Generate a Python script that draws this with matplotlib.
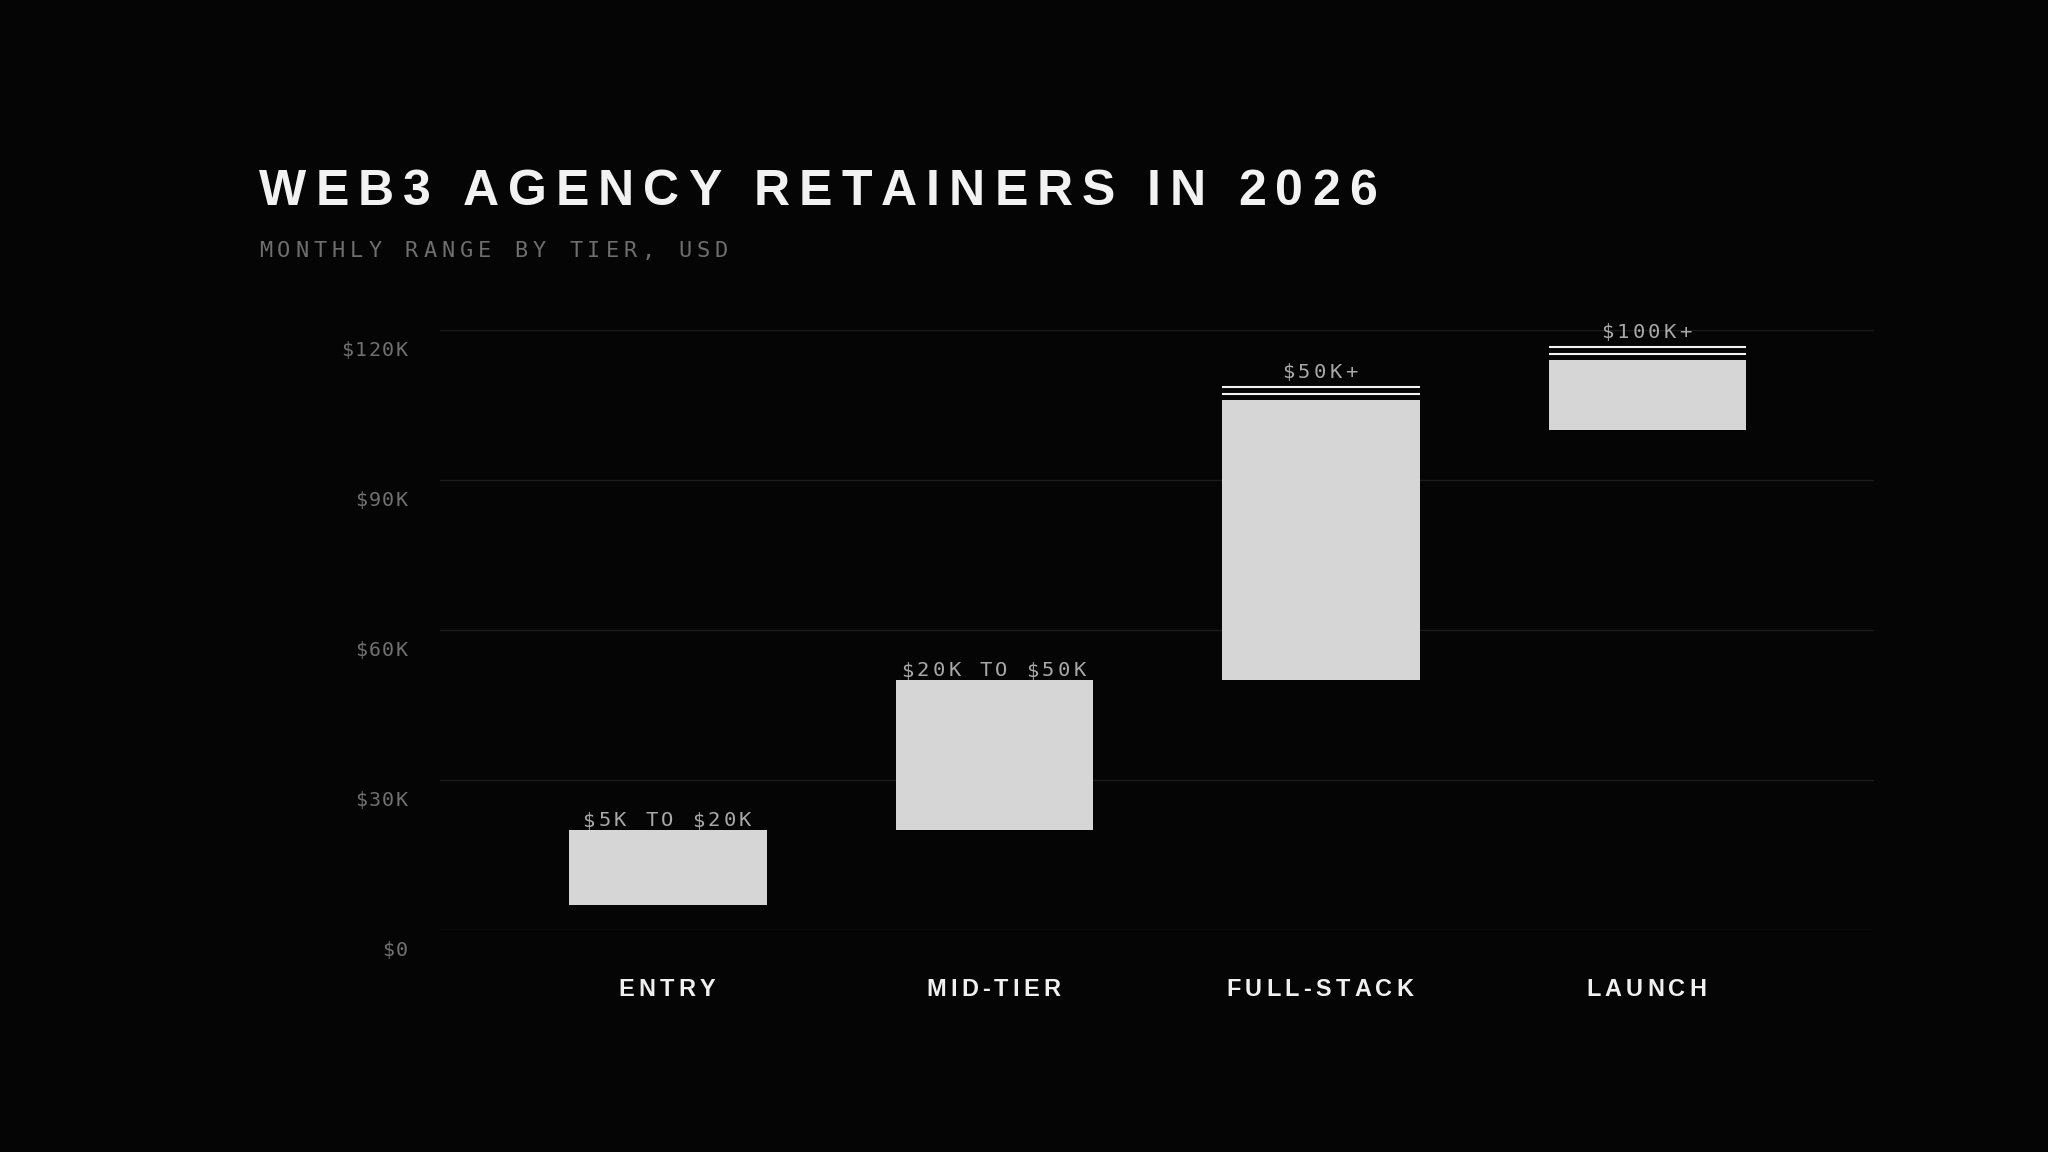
import numpy as np
import matplotlib
matplotlib.use("Agg")
import matplotlib.pyplot as plt
from matplotlib import font_manager
from matplotlib.font_manager import FontProperties
from matplotlib.ft2font import FT2Font
from matplotlib.transforms import IdentityTransform, blended_transform_factory, offset_copy

# datos del grafico (miles de USD por mes)
tiers = ["ENTRY", "MID-TIER", "FULL-STACK", "LAUNCH"]
low = [5, 20, 50, 100]
high = [20, 50, 106, 114]          # los tiers "+" no tienen tope, barra hasta aqui
open_ended = [False, False, True, True]
value_labels = ["$5K TO $20K", "$20K TO $50K", "$50K+", "$100K+"]
yticks = [0, 30, 60, 90, 120]
ytick_labels = ["$0", "$30K", "$60K", "$90K", "$120K"]

title = "WEB3 AGENCY RETAINERS IN 2026"
subtitle = "MONTHLY RANGE BY TIER, USD"

BG = "#050505"
BAR = "#d6d6d6"
W, H, DPI = 2048, 1152, 100
SANS = "Liberation Sans"
MONO = "DejaVu Sans Mono"

fig = plt.figure(figsize=(W / DPI, H / DPI), dpi=DPI, facecolor=BG)
ax = fig.add_axes([440 / W, (H - 930) / H, (1874 - 440) / W, 600 / H])
ax.set_facecolor(BG)

x = np.arange(len(tiers))
lo = np.array(low, dtype=float)
hi = np.array(high, dtype=float)
bw = 0.604

ax.bar(x, hi - lo, bottom=lo, width=bw, color=BAR, linewidth=0, zorder=3)

# lineas dobles encima de los tiers abiertos
for i in range(len(tiers)):
    if open_ended[i]:
        for dy in (6, 13):
            tr = offset_copy(ax.transData, x=0, y=dy, units="dots")
            ax.plot([x[i] - bw / 2, x[i] + bw / 2], [hi[i], hi[i]], color="#f2f2f2",
                    lw=1.5, solid_capstyle="butt", transform=tr, clip_on=False, zorder=4)

ax.set_xlim(-0.698, 3.694)
ax.set_ylim(0, 120)
ax.set_yticks(yticks)
ax.set_xticks([])
ax.tick_params(axis="y", length=0, labelleft=False)
ax.grid(axis="y", color="#1c1c1c", lw=1, zorder=0)
for s in ax.spines.values():
    s.set_visible(False)

_cache = {}


def advances(s, family, weight, size_px):
    key = (family, weight)
    if key not in _cache:
        path = font_manager.findfont(FontProperties(family=family, weight=weight))
        _cache[key] = FT2Font(path)
    ft = _cache[key]
    ft.set_size(size_px * 72 / DPI, DPI)
    return [ft.load_char(ord(c)).linearHoriAdvance / 65536 for c in s]


def spaced(xp, yp, s, family, weight, size_px, spacing_em, color, ha="left", transform=None):
    adv = advances(s, family, weight, size_px)
    sp = spacing_em * size_px
    total = sum(adv) + sp * (len(s) - 1)
    pen = {"left": 0, "center": -total / 2, "right": -total}[ha]
    for c, a in zip(s, adv):
        if c != " ":
            tr = offset_copy(transform, x=pen, y=0, units="dots")
            fig.text(xp, yp, c, transform=tr, family=family, weight=weight,
                     fontsize=size_px * 72 / DPI, color=color, ha="left", va="baseline")
        pen += a + sp


pix = IdentityTransform()
spaced(259, H - 205, title, SANS, "bold", 50, 0.181, "#f2f2f2", transform=pix)
spaced(259, H - 257, subtitle, MONO, "normal", 22, 0.227, "#6e6e6e", transform=pix)

# etiquetas eje y
ytr = blended_transform_factory(ax.transAxes, ax.transData)
for v, lab in zip(yticks, ytick_labels):
    spaced(0, v, lab, MONO, "normal", 20, 0.085, "#707070", ha="right",
           transform=offset_copy(ytr, x=-32, y=-26, units="dots"))

# categorias
xtr = blended_transform_factory(ax.transData, ax.transAxes)
for i, name in enumerate(tiers):
    spaced(x[i], 0, name, SANS, "bold", 23.5, 0.18, "#f0f0f0", ha="center",
           transform=offset_copy(xtr, x=-1, y=-66, units="dots"))

# rangos encima de cada barra
for i, lab in enumerate(value_labels):
    dy = 22 if open_ended[i] else 3.5
    spaced(x[i], hi[i], lab, MONO, "normal", 20.5, 0.16, "#a8a8a8", ha="center",
           transform=offset_copy(ax.transData, x=-1, y=dy, units="dots"))

fig.savefig("out.png", dpi=DPI, facecolor=BG)
